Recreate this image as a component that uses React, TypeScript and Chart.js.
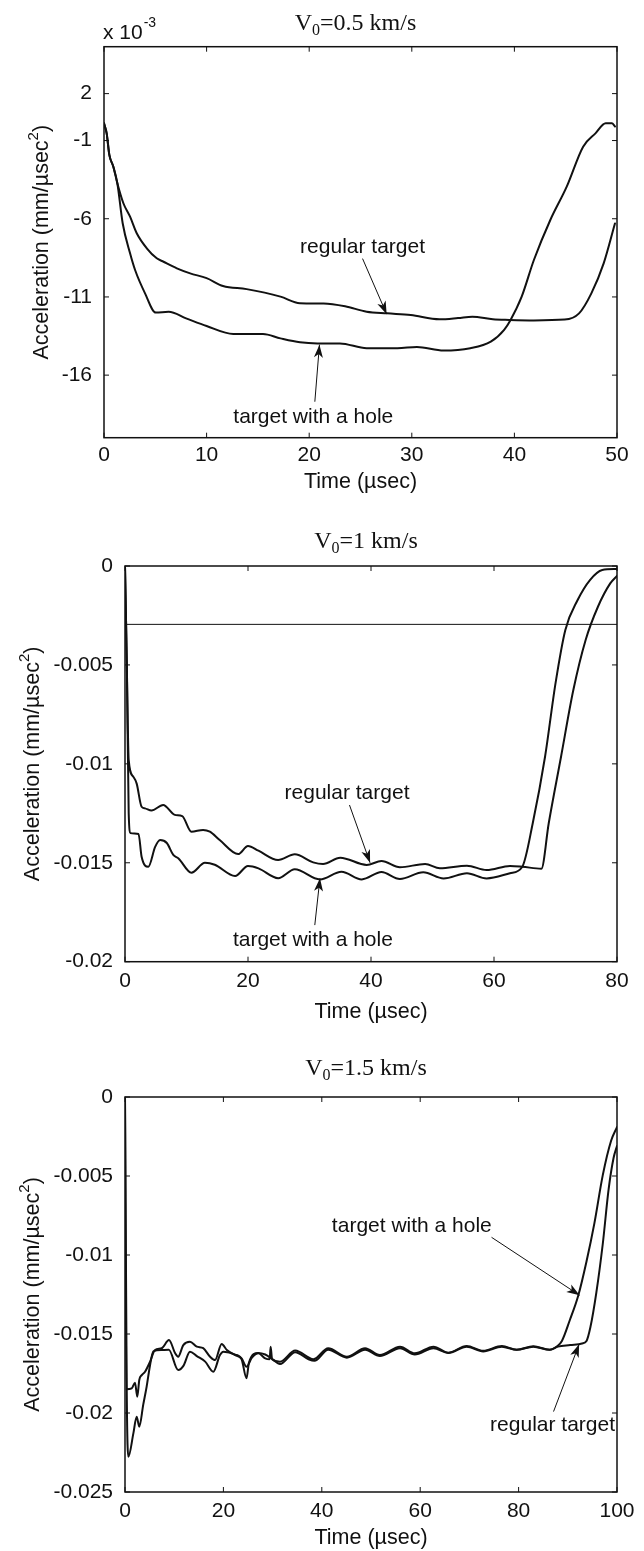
import React, { useEffect, useRef } from "react";
import { Chart, registerables } from "chart.js";

Chart.register(...registerables);

// ===== Panel 1: V0 = 0.5 km/s (acceleration in units of 1e-3 mm/µs²) =====
const p1RegularTime = [0, 0.26, 0.52, 0.91, 1.3, 1.89, 2.54, 3.19, 4.17, 5.14, 5.8, 7.1, 8.4, 10.0, 11.6, 13.9, 17.2, 19.1, 21.4, 23.5, 25.6, 27.6, 29.9, 32.7, 34.5, 35.9, 37.9, 39.5, 41.9, 44.9, 46.3, 47.5, 48.7, 49.8];
const p1RegularAccel = [0.1, -0.54, -1.92, -2.67, -3.73, -5.01, -5.87, -6.93, -7.89, -8.53, -8.75, -9.17, -9.49, -9.8, -10.3, -10.5, -10.98, -11.4, -11.42, -11.6, -11.94, -12.05, -12.16, -12.43, -12.35, -12.26, -12.43, -12.47, -12.5, -12.45, -12.05, -10.77, -8.85, -6.3];
const p1HoleTime = [0, 0.26, 0.52, 0.91, 1.3, 1.82, 2.54, 3.03, 4.0, 5.05, 6.3, 8.0, 10.0, 12.6, 15.5, 17.2, 19.1, 20.8, 23.0, 25.6, 28.6, 30.5, 33.1, 35.7, 37.7, 39.0, 39.6, 40.7, 41.9, 43.5, 45.1, 46.7, 47.9, 48.9, 49.5, 49.8];
const p1HoleAccel = [0.1, -0.54, -1.92, -2.67, -3.73, -6.29, -8.21, -9.28, -10.77, -12.0, -11.95, -12.37, -12.86, -13.37, -13.37, -13.65, -13.9, -13.97, -13.97, -14.28, -14.28, -14.2, -14.43, -14.28, -13.86, -13.1, -12.5, -11.0, -8.64, -6.08, -3.95, -1.39, -0.54, 0.1, 0.1, -0.1];
const p1XTicks = [0, 10, 20, 30, 40, 50];
const p1YTicks = [2, -1, -6, -11, -16];
const p1YTickLabels = ["2", "-1", "-6", "-11", "-16"];

// ===== Panel 2: V0 = 1 km/s =====
const p2RegularTime = [0, 0.3, 0.45, 0.6, 1.35, 1.9, 2.7, 3.25, 4.3, 6.2, 8.1, 9.3, 10.8, 12.7, 13.8, 15.4, 18.4, 20.0, 21.7, 24.9, 27.6, 30.6, 32.2, 35.0, 39.3, 41.7, 44.7, 48.8, 51.2, 55.6, 58.8, 62.6, 64.6, 67.7, 68.9, 70.9, 72.9, 74.9, 76.9, 78.9, 80];
const p2RegularAccel = [0, -0.005, -0.008, -0.0098, -0.01065, -0.011, -0.01217, -0.01225, -0.01236, -0.01208, -0.01258, -0.01264, -0.01343, -0.01334, -0.01343, -0.01385, -0.01456, -0.01415, -0.01439, -0.01486, -0.01457, -0.01498, -0.01506, -0.01474, -0.01511, -0.01491, -0.01523, -0.01506, -0.01528, -0.01515, -0.01537, -0.01516, -0.0152, -0.0153, -0.013, -0.00964, -0.00627, -0.00374, -0.00206, -0.00088, -0.0005];
const p2HoleTime = [0, 0.3, 0.6, 0.9, 2.2, 2.7, 3.8, 4.9, 5.7, 6.8, 7.85, 8.7, 10.8, 13.0, 14.6, 17.9, 20.0, 21.7, 24.9, 27.6, 31.7, 35.2, 38.5, 41.7, 44.7, 48.5, 51.8, 55.6, 58.8, 62.6, 64.6, 66.3, 68.3, 70.0, 71.6, 73.6, 75.6, 77.6, 80];
const p2HoleAccel = [0, -0.005, -0.0125, -0.0135, -0.01355, -0.0147, -0.0152, -0.0142, -0.01385, -0.014, -0.0146, -0.01478, -0.0155, -0.015, -0.0151, -0.01567, -0.01516, -0.01528, -0.01578, -0.01533, -0.01584, -0.01545, -0.01584, -0.01547, -0.01582, -0.01548, -0.01579, -0.01553, -0.01579, -0.01553, -0.0152, -0.013, -0.00964, -0.00593, -0.00323, -0.00172, -0.00071, -0.0002, -0.00015];
const p2LevelTime = [0, 80];
const p2LevelAccel = [-0.00295, -0.00295];
const p2XTicks = [0, 20, 40, 60, 80];
const p2YTicks = [0, -0.005, -0.01, -0.015, -0.02];
const p2YTickLabels = ["0", "-0.005", "-0.01", "-0.015", "-0.02"];

// ===== Panel 3: V0 = 1.5 km/s =====
const p3RegularTime = [0, 0.3, 1.36, 2.03, 2.5, 2.9, 3.4, 4.07, 5.1, 6.1, 7.46, 8.94, 10.2, 10.8, 11.85, 13.2, 14.6, 15.9, 17.3, 18.3, 19.65, 20.7, 22.4, 23.7, 24.7, 25.8, 27.1, 28.5, 29.4, 29.6, 29.9, 31.5, 34.6, 38.3, 41.3, 45.1, 48.8, 51.8, 55.9, 58.9, 62.7, 65.7, 69.45, 72.8, 76.6, 79.6, 83.0, 86.3, 88.0, 90.5, 92.9, 93.8, 94.6, 95.8, 97.1, 98.3, 99.3, 100];
const p3RegularAccel = [0, -0.0185, -0.01844, -0.01808, -0.01897, -0.01791, -0.0176, -0.01739, -0.01675, -0.01601, -0.0159, -0.01538, -0.01622, -0.01644, -0.0157, -0.01549, -0.0158, -0.0159, -0.01644, -0.01665, -0.01563, -0.01601, -0.01633, -0.01654, -0.01707, -0.0165, -0.01622, -0.01654, -0.0166, -0.0158, -0.0166, -0.01675, -0.01605, -0.0166, -0.0159, -0.01644, -0.0159, -0.01633, -0.0158, -0.01622, -0.0158, -0.01618, -0.01576, -0.01606, -0.01576, -0.016, -0.01578, -0.016, -0.0158, -0.0157, -0.0156, -0.01544, -0.01456, -0.01238, -0.00932, -0.00583, -0.00386, -0.0031];
const p3HoleTime = [0, 0.35, 0.68, 1.7, 2.37, 2.9, 3.7, 4.4, 5.1, 5.76, 7.46, 8.9, 10.8, 11.9, 13.2, 14.6, 16.3, 17.95, 19.3, 20.0, 22.4, 23.7, 24.7, 25.2, 27.1, 28.5, 30.0, 31.5, 34.6, 37.3, 38.5, 41.3, 45.1, 48.8, 51.8, 55.9, 58.9, 62.7, 65.7, 69.45, 72.8, 76.6, 79.6, 83.0, 86.3, 87.9, 88.8, 90.4, 92.1, 93.8, 95.4, 97.1, 98.8, 100];
const p3HoleAccel = [0, -0.0185, -0.02277, -0.02129, -0.02023, -0.02087, -0.01949, -0.01833, -0.01696, -0.0161, -0.01601, -0.016, -0.01728, -0.017, -0.01612, -0.0164, -0.01675, -0.01739, -0.01633, -0.01612, -0.0163, -0.0166, -0.0178, -0.0168, -0.0162, -0.0163, -0.0166, -0.0169, -0.01615, -0.0166, -0.0167, -0.016, -0.0165, -0.016, -0.0164, -0.0159, -0.0163, -0.0159, -0.0162, -0.0158, -0.0161, -0.0158, -0.016, -0.0158, -0.016, -0.01576, -0.01544, -0.01413, -0.0126, -0.01041, -0.008, -0.00496, -0.00277, -0.0019];
const p3XTicks = [0, 20, 40, 60, 80, 100];
const p3YTicks = [0, -0.005, -0.01, -0.015, -0.02, -0.025];
const p3YTickLabels = ["0", "-0.005", "-0.01", "-0.015", "-0.02", "-0.025"];

const xTitleText = "Time (µsec)";
const yTitleMain = "Acceleration (mm/µsec";
const labelRegular = "regular target";
const labelHole = "target with a hole";

// ===== styling =====
const SANS = '"Liberation Sans", Arial, Helvetica, sans-serif';
const SERIF = '"Liberation Serif", "Times New Roman", Times, serif';
const INK = "#111111";
const FONT_SIZE = 21;

type Note = { text: string; tx: number; ty: number; sx: number; sy: number; ex: number; ey: number };
type Series = { t: number[]; a: number[]; width: number; smooth: boolean };
type PanelCfg = {
  top: number;
  height: number;
  areaLeft: number;
  areaRight: number;
  areaTop: number;
  areaBottom: number;
  xMin: number;
  xMax: number;
  yMin: number;
  yMax: number;
  xTicks: number[];
  yTicks: number[];
  yTickLabels: string[];
  series: Series[];
  titleRest: string;
  titleGap: number;
  xTickPad: number;
  xTitleOffset: number;
  yTitleX: number;
  notes: Note[];
  exponent: boolean;
};

const toPoints = (t: number[], a: number[]) => {
  const n = Math.min(t.length, a.length);
  const out: { x: number; y: number }[] = [];
  for (let i = 0; i < n; i++) out.push({ x: t[i], y: a[i] });
  return out;
};

function drawArrow(ctx: CanvasRenderingContext2D, x0: number, y0: number, x1: number, y1: number) {
  ctx.lineWidth = 1;
  ctx.beginPath();
  ctx.moveTo(x0, y0);
  ctx.lineTo(x1, y1);
  ctx.stroke();
  const ang = Math.atan2(y1 - y0, x1 - x0);
  const L = 13;
  const W = 4.5;
  const notch = 3.5;
  const c = Math.cos(ang);
  const s = Math.sin(ang);
  const bx = x1 - L * c;
  const by = y1 - L * s;
  const nx = -s;
  const ny = c;
  ctx.beginPath();
  ctx.moveTo(x1, y1);
  ctx.lineTo(bx + nx * W, by + ny * W);
  ctx.lineTo(x1 - (L - notch) * c, y1 - (L - notch) * s);
  ctx.lineTo(bx - nx * W, by - ny * W);
  ctx.closePath();
  ctx.fill();
}

function makeDecor(cfg: PanelCfg) {
  return {
    id: "decor",
    afterDraw(chart: any) {
      const { ctx, chartArea: a, scales } = chart;
      const xs = scales.x;
      const ys = scales.y;
      ctx.save();
      ctx.strokeStyle = INK;
      ctx.fillStyle = INK;

      // box
      ctx.lineWidth = 1.5;
      ctx.strokeRect(a.left, a.top, a.right - a.left, a.bottom - a.top);

      // inward ticks on all four sides
      ctx.lineWidth = 1;
      ctx.beginPath();
      for (const v of cfg.xTicks) {
        const p = xs.getPixelForValue(v);
        ctx.moveTo(p, a.bottom);
        ctx.lineTo(p, a.bottom - 5);
        ctx.moveTo(p, a.top);
        ctx.lineTo(p, a.top + 5);
      }
      for (const v of cfg.yTicks) {
        const p = ys.getPixelForValue(v);
        ctx.moveTo(a.left, p);
        ctx.lineTo(a.left + 5, p);
        ctx.moveTo(a.right, p);
        ctx.lineTo(a.right - 5, p);
      }
      ctx.stroke();

      // title V0=...
      const cx = (a.left + a.right) / 2 - 5;
      const base = a.top - cfg.titleGap;
      ctx.textAlign = "left";
      ctx.textBaseline = "alphabetic";
      ctx.font = `24px ${SERIF}`;
      const wV = ctx.measureText("V").width;
      const wRest = ctx.measureText(cfg.titleRest).width;
      ctx.font = `16px ${SERIF}`;
      const w0 = ctx.measureText("0").width;
      const start = cx - (wV + w0 + wRest) / 2;
      ctx.font = `24px ${SERIF}`;
      ctx.fillText("V", start, base);
      ctx.font = `16px ${SERIF}`;
      ctx.fillText("0", start + wV, base + 5);
      ctx.font = `24px ${SERIF}`;
      ctx.fillText(cfg.titleRest, start + wV + w0, base);

      // x axis title
      ctx.font = `21.5px ${SANS}`;
      ctx.textAlign = "center";
      ctx.textBaseline = "middle";
      ctx.fillText(xTitleText, (a.left + a.right) / 2, a.bottom + cfg.xTitleOffset);

      // y axis title (rotated) with superscript 2
      ctx.save();
      ctx.translate(cfg.yTitleX, (a.top + a.bottom) / 2);
      ctx.rotate(-Math.PI / 2);
      ctx.font = `21.5px ${SANS}`;
      const wMain = ctx.measureText(yTitleMain).width;
      const wClose = ctx.measureText(")").width;
      ctx.font = `15px ${SANS}`;
      const wSup = ctx.measureText("2").width;
      const tot = wMain + wSup + wClose;
      let x0 = -tot / 2;
      ctx.textAlign = "left";
      ctx.textBaseline = "middle";
      ctx.font = `21.5px ${SANS}`;
      ctx.fillText(yTitleMain, x0, 0);
      x0 += wMain;
      ctx.font = `15px ${SANS}`;
      ctx.fillText("2", x0, -8);
      x0 += wSup;
      ctx.font = `21.5px ${SANS}`;
      ctx.fillText(")", x0, 0);
      ctx.restore();

      // exponent label
      if (cfg.exponent) {
        ctx.textAlign = "left";
        ctx.textBaseline = "alphabetic";
        ctx.font = `${FONT_SIZE}px ${SANS}`;
        const ex = a.left - 1;
        ctx.fillText("x 10", ex, a.top - 8);
        const wx = ctx.measureText("x 10").width;
        ctx.font = `14px ${SANS}`;
        ctx.fillText("-3", ex + wx + 1, a.top - 20);
      }

      // annotations
      for (const n of cfg.notes) {
        ctx.font = `${FONT_SIZE}px ${SANS}`;
        ctx.textAlign = "center";
        ctx.textBaseline = "middle";
        ctx.fillText(n.text, xs.getPixelForValue(n.tx), ys.getPixelForValue(n.ty));
        drawArrow(
          ctx,
          xs.getPixelForValue(n.sx),
          ys.getPixelForValue(n.sy),
          xs.getPixelForValue(n.ex),
          ys.getPixelForValue(n.ey)
        );
      }
      ctx.restore();
    },
  };
}

const panels: PanelCfg[] = [
  {
    top: 0,
    height: 500,
    areaLeft: 104,
    areaRight: 617,
    areaTop: 46.7,
    areaBottom: 437.7,
    xMin: 0,
    xMax: 50,
    yMin: -20,
    yMax: 5,
    xTicks: p1XTicks,
    yTicks: p1YTicks,
    yTickLabels: p1YTickLabels,
    series: [
      { t: p1RegularTime, a: p1RegularAccel, width: 2, smooth: true },
      { t: p1HoleTime, a: p1HoleAccel, width: 2, smooth: true },
    ],
    titleRest: "=0.5 km/s",
    titleGap: 16.7,
    xTickPad: 5,
    xTitleOffset: 44,
    yTitleX: 42,
    notes: [
      { text: labelRegular, tx: 25.2, ty: -7.8, sx: 25.2, sy: -8.55, ex: 27.55, ey: -12.1 },
      { text: labelHole, tx: 20.4, ty: -18.66, sx: 20.55, sy: -17.7, ex: 21.0, ey: -14.05 },
    ],
    exponent: true,
  },
  {
    top: 500,
    height: 530,
    areaLeft: 125,
    areaRight: 617,
    areaTop: 66,
    areaBottom: 461.7,
    xMin: 0,
    xMax: 80,
    yMin: -0.02,
    yMax: 0,
    xTicks: p2XTicks,
    yTicks: p2YTicks,
    yTickLabels: p2YTickLabels,
    series: [
      { t: p2RegularTime, a: p2RegularAccel, width: 2, smooth: true },
      { t: p2HoleTime, a: p2HoleAccel, width: 2, smooth: true },
      { t: p2LevelTime, a: p2LevelAccel, width: 1, smooth: false },
    ],
    titleRest: "=1 km/s",
    titleGap: 18,
    xTickPad: 7,
    xTitleOffset: 50,
    yTitleX: 33,
    notes: [
      { text: labelRegular, tx: 36.1, ty: -0.01149, sx: 36.5, sy: -0.01208, ex: 39.85, ey: -0.015 },
      { text: labelHole, tx: 30.55, ty: -0.0189, sx: 30.86, sy: -0.01815, ex: 31.7, ey: -0.01578 },
    ],
    exponent: false,
  },
  {
    top: 1030,
    height: 521,
    areaLeft: 125,
    areaRight: 617,
    areaTop: 67,
    areaBottom: 462,
    xMin: 0,
    xMax: 100,
    yMin: -0.025,
    yMax: 0,
    xTicks: p3XTicks,
    yTicks: p3YTicks,
    yTickLabels: p3YTickLabels,
    series: [
      { t: p3RegularTime, a: p3RegularAccel, width: 2, smooth: true },
      { t: p3HoleTime, a: p3HoleAccel, width: 2, smooth: true },
    ],
    titleRest: "=1.5 km/s",
    titleGap: 22,
    xTickPad: 7,
    xTitleOffset: 46,
    yTitleX: 33,
    notes: [
      { text: labelHole, tx: 58.3, ty: -0.0082, sx: 74.5, sy: -0.00888, ex: 92.4, ey: -0.01255 },
      { text: labelRegular, tx: 86.9, ty: -0.02078, sx: 87.1, sy: -0.01991, ex: 92.3, ey: -0.01565 },
    ],
    exponent: false,
  },
];

function Panel({ cfg }: { cfg: PanelCfg }) {
  const ref = useRef<HTMLCanvasElement | null>(null);
  useEffect(() => {
    if (!ref.current) return;
    const chart = new Chart(ref.current, {
      type: "line",
      data: {
        datasets: cfg.series.map((s) => ({
          data: toPoints(s.t, s.a),
          borderColor: INK,
          borderWidth: s.width,
          pointRadius: 0,
          tension: 0,
          cubicInterpolationMode: s.smooth ? ("monotone" as const) : ("default" as const),
          fill: false,
          borderJoinStyle: "round" as const,
          borderCapStyle: "round" as const,
        })),
      },
      options: {
        animation: false,
        responsive: false,
        maintainAspectRatio: false,
        devicePixelRatio: 1,
        events: [],
        layout: {
          padding: { top: cfg.areaTop, right: 644 - cfg.areaRight, bottom: 0, left: 0 },
        },
        plugins: {
          legend: { display: false },
          tooltip: { enabled: false },
          title: { display: false },
        },
        scales: {
          x: {
            type: "linear",
            position: "bottom",
            min: cfg.xMin,
            max: cfg.xMax,
            afterBuildTicks: (s: any) => {
              s.ticks = cfg.xTicks.map((v) => ({ value: v }));
            },
            afterFit: (s: any) => {
              s.height = cfg.height - cfg.areaBottom;
            },
            grid: { display: false, drawTicks: false },
            border: { display: false },
            ticks: {
              autoSkip: false,
              maxRotation: 0,
              minRotation: 0,
              padding: cfg.xTickPad,
              color: INK,
              font: { family: SANS, size: FONT_SIZE },
              callback: (v: any) => String(v),
            },
          },
          y: {
            type: "linear",
            position: "left",
            min: cfg.yMin,
            max: cfg.yMax,
            afterBuildTicks: (s: any) => {
              s.ticks = cfg.yTicks.map((v) => ({ value: v }));
            },
            afterFit: (s: any) => {
              s.width = cfg.areaLeft;
            },
            grid: { display: false, drawTicks: false },
            border: { display: false },
            ticks: {
              autoSkip: false,
              padding: 12,
              color: INK,
              font: { family: SANS, size: FONT_SIZE },
              callback: (v: any) => {
                const i = cfg.yTicks.indexOf(v);
                return i >= 0 ? cfg.yTickLabels[i] : "";
              },
            },
          },
        },
      },
      plugins: [makeDecor(cfg)],
    } as any);
    return () => chart.destroy();
  }, [cfg]);
  return (
    <canvas
      ref={ref}
      width={644}
      height={cfg.height}
      style={{ position: "absolute", left: 0, top: cfg.top, width: 644, height: cfg.height, display: "block" }}
    />
  );
}

export default function App() {
  return (
    <div style={{ position: "absolute", left: 0, top: 0, width: 644, height: 1551, background: "#ffffff" }}>
      {panels.map((p, i) => (
        <Panel key={i} cfg={p} />
      ))}
    </div>
  );
}
